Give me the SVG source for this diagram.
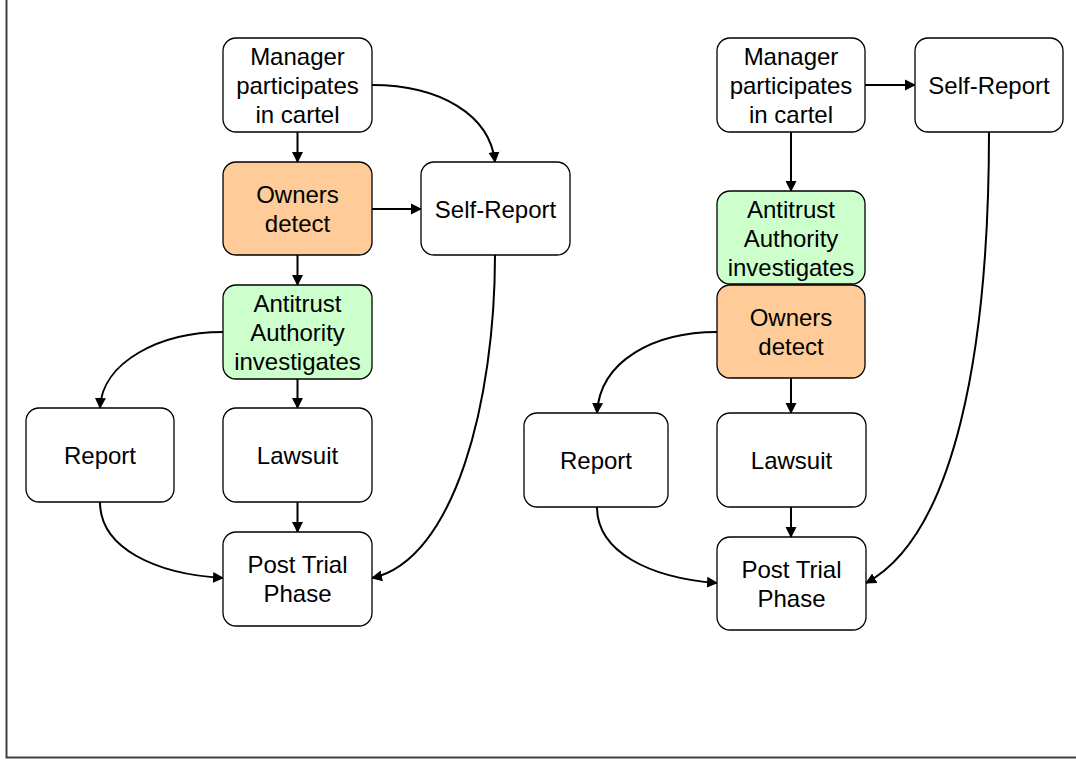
<svg xmlns="http://www.w3.org/2000/svg" width="1076" height="761" viewBox="0 0 1076 761">
<style>
.box{fill:#fff;stroke:#000;stroke-width:1.3}
.org{fill:#FFCC99}
.grn{fill:#CCFFCC}
text{font-family:"Liberation Sans",Arial,sans-serif;font-size:24px;text-anchor:middle;fill:#000}
.c{fill:none;stroke:#000;stroke-width:2;marker-end:url(#ah)}
</style>
<defs>
<marker id="ah" markerUnits="userSpaceOnUse" markerWidth="12" markerHeight="12" refX="10" refY="6" orient="auto" viewBox="0 0 12 12">
<path d="M0,0.5 L11,6 L0,11.5 z" fill="#000"/>
</marker>
</defs>
<rect width="1076" height="761" fill="#fff"/>
<path d="M6.5,0 V757.5 H1076" fill="none" stroke="#404040" stroke-width="2"/>
<g id="connectors">
<path class="c" d="M297.5,132 V162"/>
<path class="c" d="M297.5,255 V285"/>
<path class="c" d="M297.5,379 V408"/>
<path class="c" d="M297.5,502 V532"/>
<path class="c" d="M372,209 H421"/>
<path class="c" d="M372,85 C440,85 490,115 495,162"/>
<path class="c" d="M223,332 C160,332 102,362 100,408"/>
<path class="c" d="M100,502 C100,548 155,574 223,578"/>
<path class="c" d="M495,255 C495,400 455,560 372,578"/>
<path class="c" d="M865,85 H915"/>
<path class="c" d="M791,132 V191"/>
<path class="c" d="M791,378 V413"/>
<path class="c" d="M791,507 V537"/>
<path class="c" d="M717,332 C655,332 600,360 597,413"/>
<path class="c" d="M597,507 C597,552 650,578 717,583"/>
<path class="c" d="M989,132 C989,350 955,535 866,583"/>
</g>
<g id="L-manager"><rect class="box" x="223" y="38" width="149" height="94" rx="13"/><text x="297.5" y="65">Manager</text><text x="297.5" y="94">participates</text><text x="297.5" y="123">in cartel</text></g>
<g id="L-owners"><rect class="box org" x="223" y="162" width="149" height="93" rx="13"/><text x="297.5" y="203">Owners</text><text x="297.5" y="232">detect</text></g>
<g id="L-selfreport"><rect class="box" x="421" y="162" width="149" height="93" rx="13"/><text x="495.5" y="218">Self-Report</text></g>
<g id="L-antitrust"><rect class="box grn" x="223" y="285" width="149" height="94" rx="13"/><text x="297.5" y="312">Antitrust</text><text x="297.5" y="341">Authority</text><text x="297.5" y="370">investigates</text></g>
<g id="L-report"><rect class="box" x="26" y="408" width="148" height="94" rx="13"/><text x="100" y="464">Report</text></g>
<g id="L-lawsuit"><rect class="box" x="223" y="408" width="149" height="94" rx="13"/><text x="297.5" y="464">Lawsuit</text></g>
<g id="L-posttrial"><rect class="box" x="223" y="532" width="149" height="94" rx="13"/><text x="297.5" y="573">Post Trial</text><text x="297.5" y="602">Phase</text></g>
<g id="R-manager"><rect class="box" x="717" y="38" width="148" height="94" rx="13"/><text x="791" y="65">Manager</text><text x="791" y="94">participates</text><text x="791" y="123">in cartel</text></g>
<g id="R-selfreport"><rect class="box" x="915" y="38" width="148" height="94" rx="13"/><text x="989" y="94">Self-Report</text></g>
<g id="R-antitrust"><rect class="box grn" x="717" y="191" width="148" height="93" rx="13"/><text x="791" y="218">Antitrust</text><text x="791" y="247">Authority</text><text x="791" y="276">investigates</text></g>
<g id="R-owners"><rect class="box org" x="717" y="285" width="148" height="93" rx="13"/><text x="791" y="326">Owners</text><text x="791" y="355">detect</text></g>
<g id="R-report"><rect class="box" x="524" y="413" width="144" height="94" rx="13"/><text x="596" y="469">Report</text></g>
<g id="R-lawsuit"><rect class="box" x="717" y="413" width="149" height="94" rx="13"/><text x="791.5" y="469">Lawsuit</text></g>
<g id="R-posttrial"><rect class="box" x="717" y="537" width="149" height="93" rx="13"/><text x="791.5" y="578">Post Trial</text><text x="791.5" y="607">Phase</text></g>
</svg>
